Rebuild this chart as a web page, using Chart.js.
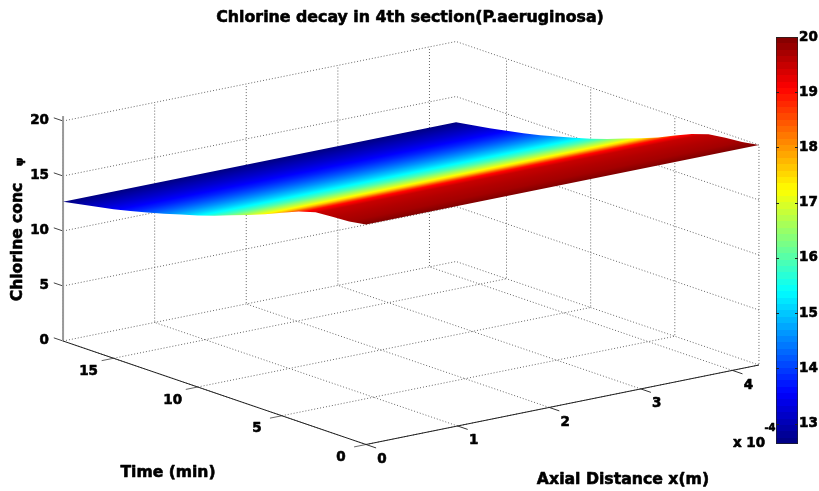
<!DOCTYPE html>
<html>
<head>
<meta charset="utf-8">
<title>Chlorine decay</title>
<script src="https://cdn.jsdelivr.net/npm/chart.js@4.4.0/dist/chart.umd.min.js"></script>
<style>
html, body { margin: 0; padding: 0; background: #fff; }
#wrap { position: relative; width: 819px; height: 491px; overflow: hidden; }
canvas { position: absolute; top: 0; }
#surface { left: 0; }
#colorbar { left: 770px; }
</style>
</head>
<body>
<div id="wrap">
  <canvas id="surface" width="819" height="491"></canvas>
  <canvas id="colorbar" width="49" height="491"></canvas>
</div>
<script>
// ---------------- DATA ----------------
const timeRows = [0, 1, 2, 3, 4, 5, 6, 7, 8, 9, 10, 11, 12, 13, 14, 15, 16, 17, 18];
const concAtStart = [20, 19.75, 19.65, 19.55, 19.1, 18.45, 17.8, 17.2, 16.65, 16.1, 15.6, 15.15, 14.7, 14.3, 13.9, 13.55, 13.25, 12.95, 12.65];
const concAtEnd = [20, 19.75, 19.62, 19.42, 18.9, 18.25, 17.55, 16.95, 16.4, 15.85, 15.35, 14.9, 14.5, 14.1, 13.75, 13.45, 13.15, 12.9, 12.65];
const xLimits = [0, 4.29];   // x 10^-4 m
const timeLimits = [0, 18];
const concLimits = [0, 20];
const xTicks = [0, 1, 2, 3, 4];
const timeTicks = [0, 5, 10, 15];
const concTicks = [0, 5, 10, 15, 20];
const colorTicks = [13, 14, 15, 16, 17, 18, 19, 20];
const colorLimits = [12.63, 20];

const FONT = '"DejaVu Sans", sans-serif';

// ---------------- VIEW (fixed MATLAB style orthographic view) ----------------
const place = (x, t, z) => ({
  x: 366 + x * 91.6 - t * 16.83,
  y: 444.5 - x * 18.53 - t * 5.75 - z * 11
});

// MATLAB jet
const jetPart = v => Math.max(0, Math.min(1, 1.5 - Math.abs(v)));
const jet = z => {
  const v = (z - colorLimits[0]) / (colorLimits[1] - colorLimits[0]);
  const r = jetPart(4 * v - 3), g = jetPart(4 * v - 2), b = jetPart(4 * v - 1);
  return `rgb(${Math.round(r * 255)},${Math.round(g * 255)},${Math.round(b * 255)})`;
};

const xMin = xLimits[0], xMax = xLimits[1], tMin = timeLimits[0], tMax = timeLimits[1];
const zMin = concLimits[0], zMax = concLimits[1];

// ---------------- LINES ----------------
const path = (pts, color, width, dash, order) => ({
  data: pts.map(p => place(p[0], p[1], p[2])),
  showLine: true, borderColor: color, borderWidth: width, borderDash: dash,
  pointRadius: 0, fill: false, order
});

const DOT = [1, 2];
const GRID = "#666";
const gridSets = [];
xTicks.forEach(x => {
  gridSets.push(path([[x, tMin, zMin], [x, tMax, zMin], [x, tMax, zMax]], GRID, 1, DOT, 5));
});
timeTicks.forEach(t => {
  gridSets.push(path([[xMin, t, zMin], [xMax, t, zMin], [xMax, t, zMax]], GRID, 1, DOT, 5));
});
concTicks.forEach(z => {
  gridSets.push(path([[xMin, tMax, z], [xMax, tMax, z], [xMax, tMin, z]], GRID, 1, DOT, 5));
});

const axisSets = [
  path([[xMin, tMax, zMin], [xMin, tMin, zMin], [xMax, tMin, zMin]], "#222", 1, [], 3),
  path([[xMin, tMax, zMin], [xMin, tMax, 20.45]], "#999", 2, [], 3)
];
xTicks.forEach(x => axisSets.push(path([[x, tMin, zMin], [x, -0.6, zMin]], "#333", 1, [], 3)));
timeTicks.forEach(t => axisSets.push(path([[xMin, t, zMin], [-0.13, t, zMin]], "#666", 1, [], 3)));
concTicks.forEach(z => axisSets.push(path([[xMin, tMax, z], [xMin, tMax + 0.55, z]], "#444", 1, [], 3)));

// ---------------- SURFACE ----------------
const outline = [];
timeRows.forEach((t, i) => outline.push(place(xMin, t, concAtStart[i])));
for (let i = timeRows.length - 1; i >= 0; i--) outline.push(place(xMax, timeRows[i], concAtEnd[i]));
outline.push(outline[0]);

// rows run parallel on screen, so one gradient across them colours the whole sheet
const surfaceGradient = chart => {
  const sx = chart.scales.x, sy = chart.scales.y;
  const rows = timeRows.map((t, i) => {
    const z = (concAtStart[i] + concAtEnd[i]) / 2;
    const p = place((xMin + xMax) / 2, t, z);
    return { z, x: sx.getPixelForValue(p.x), y: sy.getPixelForValue(p.y) };
  });
  const a = place(xMin, 0, 0), b = place(xMax, 0, 0);
  const dx = b.x - a.x, dy = b.y - a.y, len = Math.hypot(dx, dy);
  const nx = -dy / len, ny = dx / len;
  const last = rows.length - 1;
  const dist = r => (r.x - rows[last].x) * nx + (r.y - rows[last].y) * ny;
  const span = dist(rows[0]);
  const g = chart.ctx.createLinearGradient(
    rows[last].x, rows[last].y, rows[last].x + nx * span, rows[last].y + ny * span);
  for (let i = last; i > 0; i--) {
    const d0 = dist(rows[i]) / span, d1 = dist(rows[i - 1]) / span;
    for (let k = 0; k < 6; k++) {
      const f = k / 6;
      g.addColorStop(d0 + (d1 - d0) * f, jet(rows[i].z + (rows[i - 1].z - rows[i].z) * f));
    }
  }
  g.addColorStop(1, jet(rows[0].z));
  return g;
};

const surfaceSet = {
  data: outline, showLine: true, borderWidth: 0, pointRadius: 0, tension: 0,
  fill: "shape", backgroundColor: "#000", borderColor: "transparent", order: 1
};

// ---------------- TEXT ----------------
const textPlugin = {
  id: "plotText",
  afterLayout(chart) {
    surfaceSet.backgroundColor = surfaceGradient(chart);
  },
  afterDatasetsDraw(chart) {
    const c = chart.ctx, sx = chart.scales.x, sy = chart.scales.y;
    const put = (str, x, y, size, align) => {
      c.font = `bold ${size}px ${FONT}`;
      c.textAlign = align || "center";
      c.textBaseline = "middle";
      c.fillStyle = "#000";
      c.strokeStyle = "#000";
      c.lineWidth = 0.6;
      c.lineJoin = "round";
      c.strokeText(str, x, y);
      c.fillText(str, x, y);
    };
    const at = (x, t, z) => {
      const p = place(x, t, z);
      return { x: sx.getPixelForValue(p.x), y: sy.getPixelForValue(p.y) };
    };
    c.save();
    put("Chlorine decay in 4th section(P.aeruginosa)", 410, 18, 15.8);
    concTicks.forEach(z => { const p = at(xMin, tMax, z); put(String(z), 49, p.y - 1, 13.5, "right"); });
    timeTicks.forEach(t => { const p = at(xMin, t, zMin); put(String(t), p.x - 25, p.y + 13, 13.5); });
    xTicks.forEach(x => { const p = at(x, tMin, zMin); put(String(x), p.x + 16, p.y + 15, 13.5); });
    put("x 10", 749, 443, 13.5);
    put("-4", 770, 428, 10);
    put("Time (min)", 168, 473, 15.6);
    put("Axial Distance x(m)", 623, 480, 15.7);
    c.translate(18, 242);
    c.rotate(-Math.PI / 2);
    put("Chlorine conc", 0, 0, 15.5);
    put("\u03c8", 80, 2, 11);
    c.restore();
  }
};

new Chart(document.getElementById("surface"), {
  type: "scatter",
  data: { datasets: [surfaceSet, ...axisSets, ...gridSets] },
  options: {
    responsive: false,
    animation: false,
    layout: { padding: 0 },
    plugins: { legend: { display: false }, tooltip: { enabled: false } },
    scales: {
      x: { type: "linear", min: 0, max: 819, display: false },
      y: { type: "linear", min: 0, max: 491, reverse: true, display: false }
    }
  },
  plugins: [textPlugin]
});

// ---------------- COLORBAR ----------------
const LEVELS = 64;
const barGradient = chart => {
  const sy = chart.scales.y;
  const g = chart.ctx.createLinearGradient(0, sy.getPixelForValue(colorLimits[0]), 0, sy.getPixelForValue(colorLimits[1]));
  const span = colorLimits[1] - colorLimits[0];
  for (let i = 0; i < LEVELS; i++) {
    const col = jet(colorLimits[0] + span * (i + 0.5) / LEVELS);
    g.addColorStop(i / LEVELS, col);
    g.addColorStop((i + 1) / LEVELS, col);
  }
  return g;
};

const barSet = {
  data: [colorLimits],
  backgroundColor: "#000",
  borderColor: "#222",
  borderWidth: 1,
  borderSkipped: false,
  barPercentage: 1,
  categoryPercentage: 1
};

const tickPlugin = {
  id: "barTicks",
  afterLayout(chart) {
    barSet.backgroundColor = barGradient(chart);
  },
  afterDatasetsDraw(chart) {
    const c = chart.ctx, a = chart.chartArea, sy = chart.scales.y;
    c.save();
    c.strokeStyle = "#222";
    c.lineWidth = 1;
    colorTicks.forEach(v => {
      const y = Math.round(sy.getPixelForValue(v)) + 0.5;
      c.beginPath();
      c.moveTo(a.left, y); c.lineTo(a.left + 3, y);
      c.moveTo(a.right, y); c.lineTo(a.right - 3, y);
      c.stroke();
    });
    c.restore();
  }
};

new Chart(document.getElementById("colorbar"), {
  type: "bar",
  data: { labels: [""], datasets: [barSet] },
  options: {
    responsive: false,
    animation: false,
    layout: { padding: { top: 37, bottom: 47, left: 6, right: 0 } },
    plugins: { legend: { display: false }, tooltip: { enabled: false } },
    scales: {
      x: { display: false },
      y: {
        position: "right",
        min: colorLimits[0],
        max: colorLimits[1],
        afterFit(scale) { scale.width = 21; },
        afterBuildTicks(scale) { scale.ticks = colorTicks.map(value => ({ value })); },
        grid: { display: false, drawTicks: false, tickLength: 0 },
        border: { display: false },
        ticks: {
          color: "#000", padding: 1, textStrokeColor: "#000", textStrokeWidth: 0.6,
          font: { family: FONT, weight: "bold", size: 13.5 }
        }
      }
    }
  },
  plugins: [tickPlugin]
});
</script>
</body>
</html>
